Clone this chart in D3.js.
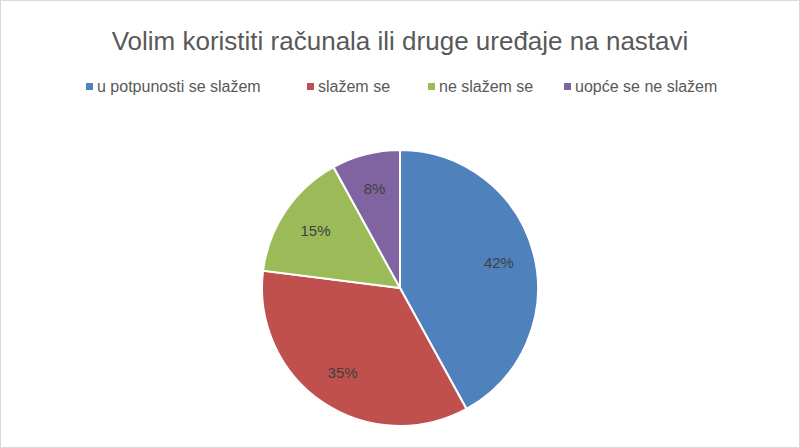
<!DOCTYPE html>
<html><head><meta charset="utf-8">
<script src="https://cdn.jsdelivr.net/npm/d3@7"></script>
<style>body{margin:0;background:#fff}svg{display:block}</style>
</head><body>
<script>
var categories = ["u potpunosti se slažem", "slažem se", "ne slažem se", "uopće se ne slažem"];
var values = [42, 35, 15, 8];
var colors = ["#4f81bd", "#c0504d", "#9bbb59", "#8064a2"];

var W = 800, H = 448, cx = 400, cy = 288, R = 138;
var font = "'Liberation Sans', Arial, sans-serif";

var svg = d3.select("body").append("svg").attr("width", W).attr("height", H);
svg.append("rect").attr("x", 0.5).attr("y", 0.5).attr("width", W - 1).attr("height", H - 1)
    .attr("fill", "#fff").attr("stroke", "#d9d9d9");

svg.append("text").attr("x", W / 2).attr("y", 50).attr("text-anchor", "middle")
    .style("font", "26px " + font).style("fill", "#595959")
    .text("Volim koristiti računala ili druge uređaje na nastavi");

// legend
var legX = [86, 307, 428, 564];
var leg = svg.selectAll(".leg").data(categories).enter().append("g")
    .attr("transform", function (d, i) { return "translate(" + legX[i] + ",87)"; });
leg.append("rect").attr("x", 0).attr("y", -4).attr("width", 7).attr("height", 7)
    .attr("fill", function (d, i) { return colors[i]; });
leg.append("text").attr("x", 11).attr("y", 5).text(function (d) { return d; })
    .style("font", "16px " + font).style("fill", "#595959");

var pie = d3.pie().sort(null).value(function (d) { return d; });
var arc = d3.arc().innerRadius(0).outerRadius(R);
var labelArc = d3.arc().innerRadius(R * 0.74).outerRadius(R * 0.74);
var g = svg.append("g").attr("transform", "translate(" + cx + "," + cy + ")");
var arcs = pie(values);
g.selectAll("path").data(arcs).enter().append("path")
    .attr("d", arc).attr("fill", function (d, i) { return colors[i]; })
    .attr("stroke", "#fff").attr("stroke-width", 2);
g.selectAll(".lbl").data(arcs).enter().append("text")
    .attr("transform", function (d) { return "translate(" + labelArc.centroid(d) + ")"; })
    .attr("text-anchor", "middle").attr("dy", "0.35em")
    .style("font", "15px " + font).style("fill", "#404040")
    .text(function (d) { return d.data + "%"; });
</script>
</body></html>
